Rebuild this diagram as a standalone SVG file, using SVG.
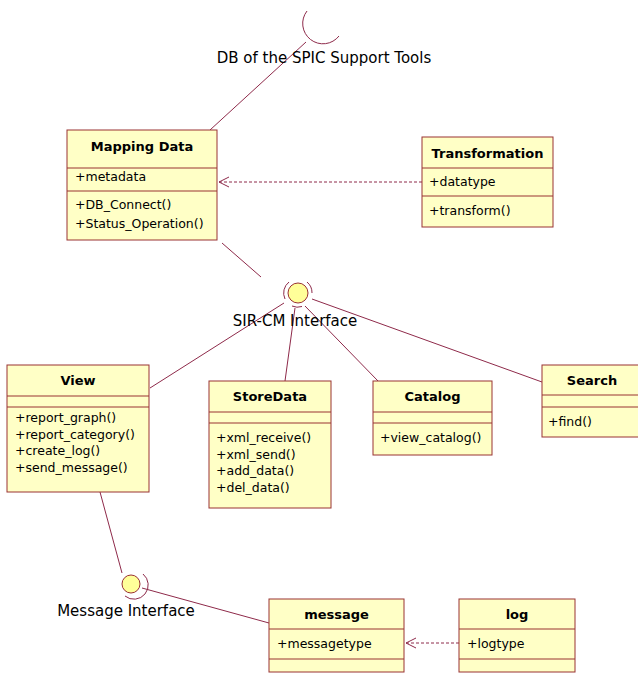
<svg xmlns="http://www.w3.org/2000/svg" width="638" height="673" viewBox="0 0 638 673">
  <defs>
    <style>
      .box { fill: #FFFFC6; stroke: #993333; stroke-width: 1; }
      .sep { stroke: #993333; stroke-width: 1; }
      .title { font-family: "DejaVu Sans", Verdana, sans-serif; font-size: 13px; font-weight: bold; fill: #000; text-anchor: middle; }
      .item { font-family: "DejaVu Sans", Verdana, sans-serif; font-size: 12.5px; fill: #000; }
      .label { font-family: "DejaVu Sans", Verdana, sans-serif; font-size: 15px; fill: #000; }
      .link { stroke: #8E2A4A; stroke-width: 1; fill: none; }
      .dep { stroke: #8E2A4A; stroke-width: 1; fill: none; stroke-dasharray: 3 2; }
      .ball { fill: #FFFF99; stroke: #993333; stroke-width: 1; }
      .ring { stroke: #8E2A4A; stroke-width: 1; fill: none; }
    </style>
    <!-- open arrowhead for dependency lines; tip sits on the line end -->
    <marker id="openArrow" viewBox="0 0 12 12" refX="11" refY="6" markerWidth="12" markerHeight="12" markerUnits="userSpaceOnUse" orient="auto">
      <path d="M1 1 L11 6 L1 11" fill="none" stroke="#8E2A4A" stroke-width="1"/>
    </marker>
  </defs>

  <rect width="638" height="673" fill="#FFFFFF"/>

  <!-- connectors -->
  <g id="connectors">
    <line class="link" x1="210" y1="130" x2="306" y2="42"/>
    <line class="dep" x1="422" y1="182" x2="219" y2="182" marker-end="url(#openArrow)"/>
    <line class="link" x1="222" y1="243" x2="261" y2="277"/>
    <line class="link" x1="150" y1="388" x2="284" y2="303"/>
    <line class="link" x1="285" y1="381" x2="295" y2="308"/>
    <line class="link" x1="378" y1="381" x2="305" y2="306"/>
    <line class="link" x1="542" y1="382" x2="312" y2="299"/>
    <line class="link" x1="100" y1="492" x2="122" y2="573"/>
    <line class="link" x1="142" y1="588" x2="269" y2="623"/>
    <line class="dep" x1="459" y1="643" x2="406" y2="643" marker-end="url(#openArrow)"/>
  </g>

  <!-- required interface: DB of the SPIC Support Tools -->
  <g id="db-socket">
    <path class="ring" d="M307 11 A20 20 0 0 0 339 36"/>
    <text class="label" x="324" y="63" text-anchor="middle">DB of the SPIC Support Tools</text>
  </g>

  <!-- provided interface: SIR-CM Interface -->
  <g id="sircm-interface">
    <path class="ring" d="M289 282 A14 14 0 0 0 285 299"/>
    <path class="ring" d="M292 306 A14 14 0 0 0 302 306.5"/>
    <path class="ring" d="M307 282 A14 14 0 0 1 312 293"/>
    <circle class="ball" cx="298" cy="293" r="10"/>
    <text class="label" x="295" y="326" text-anchor="middle">SIR-CM Interface</text>
  </g>

  <!-- provided interface: Message Interface -->
  <g id="message-interface">
    <path class="ring" d="M143 574 A14 14 0 0 1 125 596"/>
    <circle class="ball" cx="131" cy="584" r="9"/>
    <text class="label" x="126" y="616" text-anchor="middle">Message Interface</text>
  </g>

  <g id="mapping-data">
    <rect class="box" x="67" y="130" width="150" height="110"/>
    <line class="sep" x1="67" y1="168" x2="217" y2="168"/>
    <line class="sep" x1="67" y1="191" x2="217" y2="191"/>
    <text class="title" x="142" y="151">Mapping Data</text>
    <text class="item" x="75" y="181">+metadata</text>
    <text class="item" x="75" y="209">+DB_Connect()</text>
    <text class="item" x="75" y="228">+Status_Operation()</text>
  </g>

  <g id="transformation">
    <rect class="box" x="422" y="137" width="131" height="90"/>
    <line class="sep" x1="422" y1="168" x2="553" y2="168"/>
    <line class="sep" x1="422" y1="196" x2="553" y2="196"/>
    <text class="title" x="487.5" y="158">Transformation</text>
    <text class="item" x="429" y="186">+datatype</text>
    <text class="item" x="429" y="215">+transform()</text>
  </g>

  <g id="view">
    <rect class="box" x="7" y="365" width="142" height="127"/>
    <line class="sep" x1="7" y1="396" x2="149" y2="396"/>
    <line class="sep" x1="7" y1="407" x2="149" y2="407"/>
    <text class="title" x="78" y="385">View</text>
    <text class="item" x="15" y="422">+report_graph()</text>
    <text class="item" x="15" y="438.5">+report_category()</text>
    <text class="item" x="15" y="455">+create_log()</text>
    <text class="item" x="15" y="471.5">+send_message()</text>
  </g>

  <g id="store-data">
    <rect class="box" x="209" y="381" width="122" height="127"/>
    <line class="sep" x1="209" y1="412" x2="331" y2="412"/>
    <line class="sep" x1="209" y1="423" x2="331" y2="423"/>
    <text class="title" x="270" y="401">StoreData</text>
    <text class="item" x="216" y="442">+xml_receive()</text>
    <text class="item" x="216" y="458.5">+xml_send()</text>
    <text class="item" x="216" y="475">+add_data()</text>
    <text class="item" x="216" y="491.5">+del_data()</text>
  </g>

  <g id="catalog">
    <rect class="box" x="373" y="381" width="119" height="74"/>
    <line class="sep" x1="373" y1="412" x2="492" y2="412"/>
    <line class="sep" x1="373" y1="423" x2="492" y2="423"/>
    <text class="title" x="432.5" y="401">Catalog</text>
    <text class="item" x="380" y="442">+view_catalog()</text>
  </g>

  <g id="search">
    <rect class="box" x="542" y="365" width="100" height="72"/>
    <line class="sep" x1="542" y1="395" x2="642" y2="395"/>
    <line class="sep" x1="542" y1="407" x2="642" y2="407"/>
    <text class="title" x="592" y="385">Search</text>
    <text class="item" x="548" y="426">+find()</text>
  </g>

  <g id="message">
    <rect class="box" x="269" y="599" width="135" height="73"/>
    <line class="sep" x1="269" y1="629" x2="404" y2="629"/>
    <line class="sep" x1="269" y1="659" x2="404" y2="659"/>
    <text class="title" x="336.5" y="619">message</text>
    <text class="item" x="277" y="648">+messagetype</text>
  </g>

  <g id="log">
    <rect class="box" x="459" y="599" width="116" height="73"/>
    <line class="sep" x1="459" y1="629" x2="575" y2="629"/>
    <line class="sep" x1="459" y1="659" x2="575" y2="659"/>
    <text class="title" x="517" y="619">log</text>
    <text class="item" x="467" y="648">+logtype</text>
  </g>
</svg>
